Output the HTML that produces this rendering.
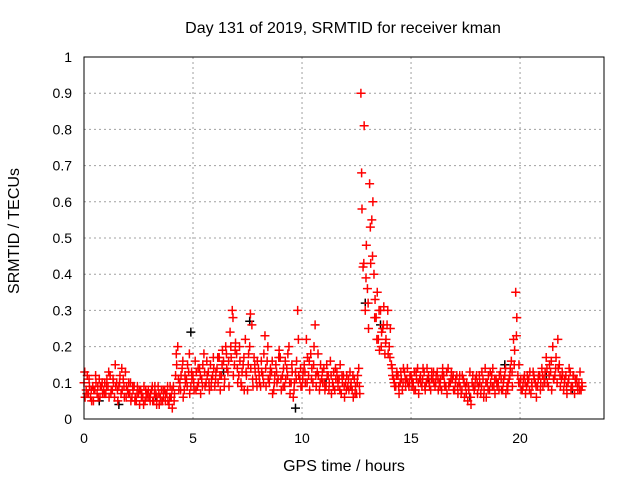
<!DOCTYPE html>
<html><head><meta charset="utf-8"><style>
html,body{margin:0;padding:0;background:#fff;}
svg{display:block;font-family:"Liberation Sans",sans-serif;}
</style></head><body>
<svg id="chart" width="640" height="480" viewBox="0 0 640 480" xmlns="http://www.w3.org/2000/svg">
<rect x="0" y="0" width="640" height="480" fill="#fff"/>
<text x="343" y="33" text-anchor="middle" font-size="16" fill="#000">Day 131 of 2019, SRMTID for receiver kman</text>
<g id="grid"></g>
<g id="ticks"></g>
<g id="marks"></g>
<rect x="84" y="57" width="520" height="362" fill="none" stroke="#000" stroke-width="1"/>
<text x="344" y="471" text-anchor="middle" font-size="16" fill="#000">GPS time / hours</text>
<text transform="translate(19,231) rotate(-90)" text-anchor="middle" font-size="16" fill="#000">SRMTID / TECUs</text>
</svg>
<script>
const xTicks = [0, 5, 10, 15, 20];
const yTicks = [0, 0.1, 0.2, 0.3, 0.4, 0.5, 0.6, 0.7, 0.8, 0.9, 1];
const yTickLabels = ["0","0.1","0.2","0.3","0.4","0.5","0.6","0.7","0.8","0.9","1"];
const valsA = [
0.10,0.08,0.07,0.06,0.09,0.08,0.07,0.11,0.09,0.08,
0.07,0.09,0.12,0.08,0.06,0.10,0.09,0.07,0.11,0.13,
0.08,0.07,0.06,0.09,0.05,0.07,0.08,0.06,0.05,0.07,
0.06,0.08,0.05,0.07,0.09,0.06,0.05,0.08,0.07,0.04,
0.06,0.09,0.12,0.20,0.10,0.14,0.08,0.11,0.13,0.09,
0.12,0.16,0.09,0.14,0.11,0.18,0.10,0.13,0.15,0.12,
0.09,0.14,0.17,0.12,0.16,0.20,0.13,0.24,0.30,0.15,
0.18,0.12,0.10,0.15,0.22,0.08,0.20,0.26,0.17,0.11,
0.14,0.09,0.12,0.23,0.16,0.10,0.13,0.08,0.15,0.11,
0.17,0.12,0.09,0.14,0.20,0.10,0.06,0.13,0.30,0.11,
0.09,0.15,0.22,0.12,0.18,0.10,0.26,0.13,0.08,0.11,
0.14,0.09,0.12,0.16,0.10,0.08,0.13,0.11,0.07,0.12,
0.10,0.09,0.13,0.08,0.11,0.07,0.14,0.90,0.42,0.30,
0.36,0.65,0.55,0.40,0.28,0.22,0.30,0.25,0.18,0.26,
0.20,0.15,0.11,0.09,0.12,0.10,0.08,0.13,0.11,0.09,
0.12,0.10,0.08,0.14,0.11,0.09,0.13,0.10,0.12,0.08,
0.11,0.09,0.13,0.10,0.08,0.12,0.09,0.14,0.10,0.11,
0.08,0.12,0.10,0.07,0.11,0.09,0.05,0.13,0.10,0.08,
0.12,0.09,0.07,0.11,0.14,0.10,0.08,0.12,0.09,0.11,
0.10,0.13,0.08,0.12,0.09,0.11,0.16,0.22,0.35,0.12,
0.10,0.08,0.12,0.09,0.11,0.07,0.13,0.10,0.09,0.12,
0.14,0.11,0.17,0.09,0.13,0.20,0.12,0.10,0.15,0.11,
0.08,0.12,0.10,0.13,0.09,0.07,0.11,0.10,0.08];
const valsB = [
0.06,0.12,0.09,0.05,0.08,0.10,0.06,0.09,0.07,0.10,
0.11,0.06,0.08,0.10,0.09,0.05,0.12,0.08,0.06,0.09,
0.10,0.05,0.08,0.06,0.09,0.04,0.07,0.09,0.06,0.08,
0.07,0.05,0.09,0.06,0.04,0.08,0.06,0.07,0.05,0.09,
0.03,0.07,0.15,0.08,0.12,0.06,0.10,0.15,0.07,0.11,
0.08,0.13,0.10,0.07,0.15,0.09,0.12,0.08,0.11,0.14,
0.13,0.10,0.08,0.19,0.11,0.14,0.09,0.17,0.12,0.21,
0.10,0.16,0.13,0.08,0.12,0.18,0.14,0.09,0.13,0.16,
0.10,0.13,0.18,0.09,0.11,0.14,0.07,0.12,0.10,0.19,
0.08,0.14,0.11,0.18,0.07,0.13,0.10,0.16,0.12,0.09,
0.13,0.10,0.17,0.08,0.14,0.20,0.09,0.12,0.15,0.10,
0.08,0.12,0.10,0.07,0.13,0.11,0.09,0.15,0.10,0.06,
0.12,0.08,0.10,0.06,0.09,0.12,0.07,0.58,0.81,0.48,
0.25,0.43,0.60,0.33,0.35,0.19,0.24,0.31,0.22,0.18,
0.25,0.12,0.09,0.13,0.07,0.11,0.14,0.09,0.10,0.12,
0.09,0.13,0.11,0.07,0.10,0.14,0.08,0.11,0.09,0.13,
0.10,0.12,0.08,0.11,0.14,0.09,0.07,0.10,0.13,0.08,
0.11,0.07,0.09,0.12,0.06,0.10,0.08,0.04,0.09,0.11,
0.07,0.10,0.13,0.08,0.06,0.12,0.10,0.14,0.07,0.09,
0.12,0.08,0.11,0.07,0.10,0.14,0.09,0.19,0.28,0.15,
0.08,0.11,0.07,0.10,0.13,0.09,0.11,0.06,0.12,0.10,
0.09,0.13,0.10,0.15,0.08,0.11,0.17,0.14,0.09,0.12,
0.11,0.07,0.14,0.09,0.12,0.10,0.08,0.13,0.09];
const valsC = [
0.13,0.07,0.11,0.08,0.05,0.12,0.09,0.06,0.10,0.07,
0.09,0.13,0.07,0.11,0.15,0.08,0.10,0.14,0.09,0.06,
0.07,0.10,0.09,0.05,0.07,0.08,0.06,0.04,0.08,0.06,
0.05,0.09,0.07,0.04,0.07,0.05,0.08,0.05,0.09,0.06,
0.08,0.05,0.18,0.11,0.08,0.16,0.12,0.09,0.18,0.13,
0.10,0.08,0.14,0.12,0.09,0.13,0.16,0.10,0.09,0.17,
0.11,0.17,0.12,0.15,0.09,0.18,0.16,0.20,0.28,0.19,
0.14,0.20,0.09,0.17,0.13,0.15,0.29,0.11,0.15,0.09,
0.12,0.16,0.10,0.14,0.20,0.12,0.16,0.10,0.13,0.17,
0.11,0.09,0.16,0.12,0.10,0.15,0.08,0.11,0.22,0.14,
0.11,0.13,0.10,0.16,0.11,0.15,0.12,0.18,0.10,0.13,
0.10,0.15,0.08,0.12,0.09,0.14,0.11,0.08,0.12,0.09,
0.08,0.11,0.09,0.12,0.07,0.10,0.09,0.68,0.43,0.39,
0.32,0.53,0.45,0.28,0.22,0.30,0.20,0.26,0.21,0.30,
0.17,0.14,0.10,0.12,0.09,0.13,0.10,0.11,0.14,0.10,
0.11,0.08,0.13,0.10,0.12,0.11,0.09,0.14,0.10,0.11,
0.13,0.10,0.11,0.09,0.12,0.10,0.13,0.09,0.11,0.12,
0.10,0.09,0.12,0.08,0.10,0.07,0.09,0.06,0.12,0.09,
0.10,0.12,0.09,0.06,0.10,0.08,0.13,0.09,0.11,0.10,
0.08,0.11,0.10,0.14,0.08,0.12,0.13,0.15,0.23,0.10,
0.11,0.09,0.10,0.12,0.08,0.10,0.12,0.09,0.11,0.08,
0.12,0.10,0.14,0.12,0.16,0.11,0.14,0.22,0.12,0.13,
0.10,0.09,0.11,0.08,0.12,0.11,0.09,0.08,0.10];
const hoursBlack = [0.7, 1.6, 3.3, 4.9, 6.4, 7.6, 9.7, 11.1, 12.9, 13.6, 15.8, 17.7, 19.3, 21.2, 22.4];
const valsBlack = [0.05, 0.04, 0.06, 0.24, 0.13, 0.27, 0.03, 0.10, 0.32, 0.26, 0.11, 0.06, 0.15, 0.12, 0.08];
const hoursA = valsA.map((v, i) => i * 0.1);
const hoursB = valsB.map((v, i) => i * 0.1 + 0.05);
const hoursC = valsC.map((v, i) => i * 0.1 + 0.033);

const X0 = 84, X1 = 604, Y0 = 419, Y1 = 57, XMAX = 23.85;
function xs(h) { return X0 + h / XMAX * (X1 - X0); }
function ys(v) { return Y0 - v * (Y0 - Y1); }
const NS = "http://www.w3.org/2000/svg";
const grid = document.getElementById('grid');
const ticks = document.getElementById('ticks');
const marks = document.getElementById('marks');

yTicks.forEach((t, i) => {
  const y = ys(t);
  if (t > 0 && t < 1) {
    const l = document.createElementNS(NS, 'line');
    
    
    l.setAttribute('x1', X0); l.setAttribute('x2', X1); l.setAttribute('y1', y); l.setAttribute('y2', y);
    l.setAttribute('stroke', '#a0a0a0'); l.setAttribute('stroke-dasharray', '2,3');
    grid.appendChild(l);
  }
  const tk = document.createElementNS(NS, 'text');
  
  
  tk.setAttribute('x', 72); tk.setAttribute('y', y + 5);
  tk.setAttribute('text-anchor', 'end'); tk.setAttribute('font-size', '14');
  tk.textContent = yTickLabels[i];
  ticks.appendChild(tk);
});
xTicks.forEach(t => {
  const x = xs(t);
  if (t > 0) {
    const l = document.createElementNS(NS, 'line');
    
    
    l.setAttribute('x1', x); l.setAttribute('x2', x); l.setAttribute('y1', Y1); l.setAttribute('y2', Y0);
    l.setAttribute('stroke', '#a0a0a0'); l.setAttribute('stroke-dasharray', '2,3');
    grid.appendChild(l);
  }
  const tk = document.createElementNS(NS, 'text');
  
  
  tk.setAttribute('x', x); tk.setAttribute('y', 443);
  tk.setAttribute('text-anchor', 'middle'); tk.setAttribute('font-size', '14');
  tk.textContent = String(t);
  ticks.appendChild(tk);
});

function plusPath(hours, vals) {
  let d = '';
  for (let i = 0; i < vals.length; i++) {
    const x = xs(hours[i]), y = ys(vals[i]);
    d += 'M' + (x - 4.5) + ' ' + y + 'h9M' + x + ' ' + (y - 4.5) + 'v9';
  }
  return d;
}
function addSeries(name, hours, vals, color) {
  const p = document.createElementNS(NS, 'path');
  
  
  p.setAttribute('d', plusPath(hours, vals));
  p.setAttribute('stroke', color); p.setAttribute('stroke-width', '1.5'); p.setAttribute('fill', 'none');
  marks.appendChild(p);
}
addSeries('series-black-points', hoursBlack, valsBlack, '#000');
addSeries('series-red-points-c', hoursC, valsC, '#ff0000');
addSeries('series-red-points-b', hoursB, valsB, '#ff0000');
addSeries('series-red-points-a', hoursA, valsA, '#ff0000');
</script>
</body></html>
